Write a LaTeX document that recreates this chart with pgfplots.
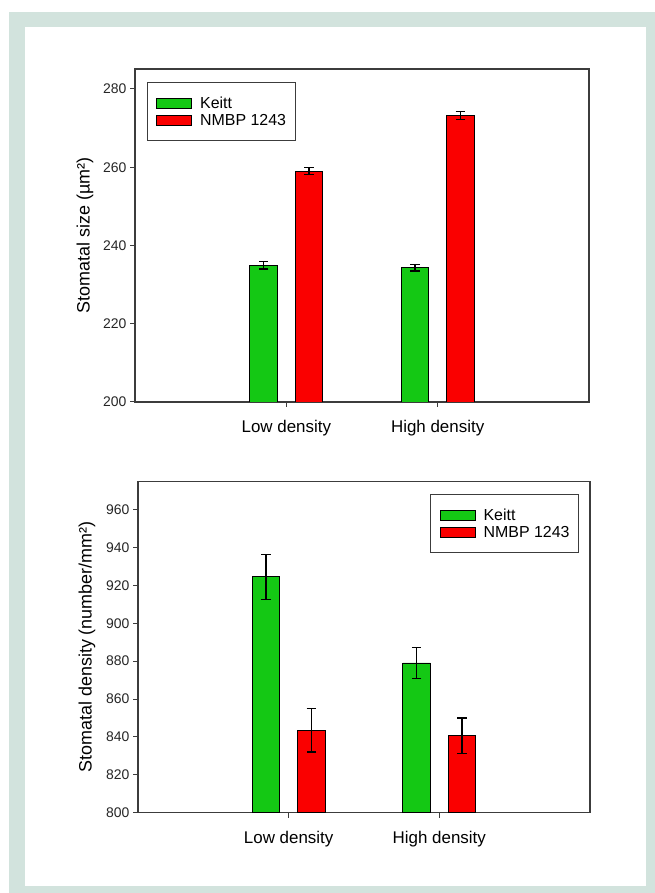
\documentclass[border=0pt]{standalone}
\usepackage{pgfplots}
\pgfplotsset{compat=1.18}
\usepackage{fontspec}
\setmainfont{Liberation Sans}
\definecolor{frameg}{RGB}{210,227,221}
\definecolor{barg}{RGB}{20,200,20}
\definecolor{barr}{RGB}{250,0,0}
\definecolor{axc}{RGB}{60,60,60}
\pgfplotsset{
  mybars/.style={
    scale only axis,
    ybar=18bp, bar width=27.5bp,
    xmin=0, xmax=3,
    xtick={1,2}, xticklabels={Low density, High density},
    tick align=outside, xtick pos=bottom, ytick pos=left,
    major tick length=5bp,
    axis line style={axc, line width=1.1bp},
    every tick/.style={axc, line width=1bp},
    x tick label style={font=\fontsize{17}{19}\selectfont, yshift=-10bp},
    y tick label style={font=\fontsize{14}{16}\selectfont, text=black!85},
    /pgf/number format/assume math mode=true,
    legend cell align=left,
    legend image code/.code={\draw[#1, draw=black, line width=0.7bp] (0bp,-5bp) rectangle (35bp,5bp);},
    legend style={draw=axc, line width=0.9bp, inner xsep=9bp, inner ysep=12bp, row sep=0bp,
      font=\fontsize{16}{18}\selectfont,
      /tikz/every odd column/.append style={column sep=8bp},
      nodes={inner xsep=0bp, inner ysep=3bp, text height=11bp, text depth=0bp}},
    error bars/y dir=both, error bars/y explicit,
    error bars/error bar style={black, line width=1.2bp},
    error bars/error mark options={rotate=90, mark size=4.7bp, line width=1.2bp, black},
  }
}
\begin{document}
\begin{tikzpicture}
\path[use as bounding box] (0,0) rectangle (655bp,893bp);
\fill[white] (0,0) rectangle (655bp,893bp);
\fill[frameg] (9bp,0) rectangle (655bp,881bp);
\fill[white] (25bp,7bp) rectangle (646bp,866bp);

\begin{axis}[mybars,
  at={(135bp,491bp)}, anchor=south west,
  width=454bp, height=333bp,
  ymin=200, ymax=285.1,
  ytick={200,220,240,260,280},
  ylabel={Stomatal size (µm²)},
  ylabel style={at={(axis description cs:-0.110,0.5)}, anchor=center, rotate=0, font=\fontsize{18}{20}\selectfont},
  legend style={at={(0,1)}, anchor=north west, xshift=12bp, yshift=-13bp},
]
\addplot[fill=barg, draw=black, line width=0.7bp] coordinates {(1,235.0) +- (0,1.0) (2,234.3) +- (0,0.8)};
\addplot[fill=barr, draw=black, line width=0.7bp] coordinates {(1,259.0) +- (0,0.9) (2,273.2) +- (0,1.0)};
\legend{Keitt, NMBP 1243}
\end{axis}

\begin{axis}[mybars,
  at={(138bp,80.5bp)}, anchor=south west,
  width=452bp, height=331bp,
  ymin=800, ymax=975,
  ytick={800,820,840,860,880,900,920,940,960},
  ylabel={Stomatal density (number/mm²)},
  ylabel style={at={(axis description cs:-0.113,0.5)}, anchor=center, rotate=0, font=\fontsize{18}{20}\selectfont},
  legend style={at={(1,1)}, anchor=north east, xshift=-11bp, yshift=-13bp},
]
\addplot[fill=barg, draw=black, line width=0.7bp] coordinates {(1,924.6) +- (0,11.8) (2,879.1) +- (0,8.3)};
\addplot[fill=barr, draw=black, line width=0.7bp] coordinates {(1,843.5) +- (0,11.5) (2,840.7) +- (0,9.3)};
\legend{Keitt, NMBP 1243}
\end{axis}
\end{tikzpicture}
\end{document}
